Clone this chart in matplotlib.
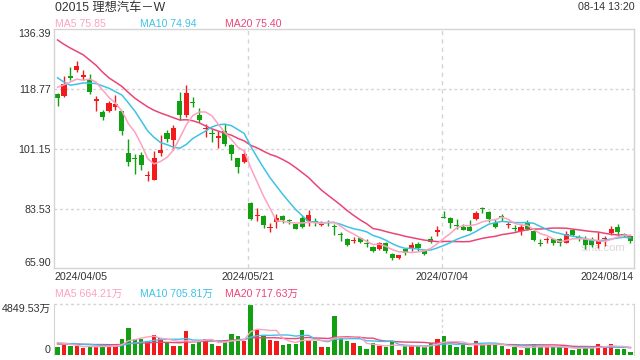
import numpy as np
import pandas as pd
import matplotlib
matplotlib.use('Agg')
import matplotlib.pyplot as plt

plt.rcParams['font.family'] = ['Liberation Sans', 'Noto Sans CJK SC', 'DejaVu Sans']

# daily candles 2024/04/05 .. 2024/08/14 (HKD)
opens = [117.3, 116.8, 122.5, 124.5, 122.2, 121.7, 115.1, 111.9, 112.2, 113.6,
         112.2, 99.9, 98.5, 99.4, 93.0, 92.0, 99.9, 105.8, 103.6, 115.1,
         111.1, 114.8, 111.1, 107.0, 105.6, 104.2, 106.5, 102.4, 98.4, 97.2,
         85.3, 81.4, 81.4, 77.8, 79.6, 81.4, 80.1, 78.9, 80.6, 79.9,
         79.9, 78.6, 79.5, 78.4, 75.9, 74.5, 73.9, 74.7, 73.2, 72.2,
         71.7, 73.5, 70.1, 68.8, 71.5, 71.7, 73.0, 71.2, 74.5, 76.5,
         80.9, 80.6, 78.6, 78.2, 78.1, 80.4, 83.5, 82.5, 79.2, 81.1,
         78.7, 77.7, 76.9, 79.4, 76.9, 73.5, 74.3, 74.5, 74.5, 73.5,
         77.1, 75.0, 74.5, 74.3, 73.0, 74.5, 76.2, 78.1, 75.8, 75.3]
highs = [117.5, 122.7, 125.3, 126.9, 124.3, 123.2, 116.6, 112.6, 115.2, 117.1,
         112.4, 103.9, 99.7, 100.2, 94.6, 100.4, 105.3, 106.7, 108.2, 118.0,
         120.0, 116.4, 113.1, 108.5, 107.0, 106.3, 108.5, 102.6, 98.4, 100.7,
         85.5, 83.8, 81.6, 79.4, 82.0, 81.7, 80.4, 79.1, 81.4, 83.0,
         80.6, 79.9, 80.2, 78.9, 76.5, 74.7, 75.0, 75.0, 74.5, 72.5,
         73.7, 73.7, 70.3, 69.9, 71.9, 73.7, 73.7, 71.7, 75.5, 78.4,
         82.8, 80.9, 80.4, 78.9, 80.1, 82.8, 84.0, 82.8, 80.4, 81.9,
         79.6, 78.6, 78.9, 80.2, 77.1, 74.5, 75.0, 74.7, 74.7, 76.9,
         77.4, 75.7, 75.3, 75.0, 76.5, 75.5, 78.4, 79.1, 76.3, 75.7]
lows = [113.9, 116.3, 121.4, 123.9, 121.4, 117.3, 112.2, 109.5, 111.9, 112.6,
        105.1, 96.0, 93.8, 95.0, 91.7, 92.0, 98.9, 103.1, 100.9, 109.5,
        110.6, 113.4, 109.0, 104.6, 103.1, 101.4, 102.1, 97.9, 94.1, 97.0,
        80.1, 79.9, 77.9, 76.6, 77.9, 79.2, 78.9, 77.4, 77.9, 78.4,
        78.4, 78.4, 78.4, 75.7, 74.0, 72.5, 73.5, 73.3, 72.3, 70.7,
        71.3, 70.5, 68.4, 68.6, 69.8, 71.0, 71.0, 69.9, 73.3, 75.3,
        80.6, 77.9, 77.6, 77.1, 76.9, 80.2, 82.3, 79.6, 77.9, 79.9,
        77.9, 76.9, 75.7, 77.2, 74.0, 72.5, 73.3, 72.7, 72.5, 73.3,
        75.3, 74.0, 71.5, 72.2, 72.0, 72.5, 75.8, 75.8, 75.0, 73.5]
closes = [116.1, 120.4, 122.0, 125.6, 122.8, 117.8, 115.8, 110.4, 114.6, 114.4,
          106.3, 97.2, 98.2, 96.4, 93.2, 98.4, 100.9, 104.1, 107.2, 111.1,
          117.6, 114.6, 109.5, 107.2, 105.4, 104.8, 102.6, 99.7, 95.8, 99.5,
          80.4, 81.6, 78.6, 78.0, 80.6, 80.1, 79.9, 77.6, 78.1, 81.6,
          79.6, 78.8, 79.3, 78.2, 75.7, 72.7, 74.1, 73.7, 73.0, 71.0,
          73.3, 71.0, 68.8, 69.8, 70.5, 72.7, 72.0, 70.2, 73.7, 77.1,
          80.6, 79.2, 78.4, 77.2, 76.9, 82.3, 83.3, 80.4, 78.2, 80.9,
          78.9, 77.4, 78.1, 77.6, 74.3, 73.2, 74.5, 73.3, 73.5, 76.0,
          75.7, 74.7, 72.8, 72.8, 74.0, 74.8, 77.6, 76.5, 75.6, 74.0]
# volume, 万股
volumes = [740, 930, 835, 835, 640, 900, 740, 995, 770, 835,
           1570, 2620, 1535, 1535, 1375, 1950, 1630, 1155, 900, 835,
           2330, 1090, 1375, 1570, 1090, 835, 1250, 2045, 1790, 1310,
           4800, 2430, 1790, 1410, 1375, 995, 1090, 1090, 2430, 1375,
           1375, 770, 770, 3770, 1630, 1310, 1155, 900, 610, 1155,
           900, 740, 1310, 515, 835, 900, 835, 740, 1155, 1570,
           1855, 995, 770, 995, 770, 1375, 995, 995, 995, 900,
           610, 770, 515, 770, 1060, 770, 740, 740, 740, 740,
           450, 580, 835, 675, 1090, 740, 1060, 610, 610, 320]
# 19 sessions before the window, only used for the moving averages
prior_closes = [146.0, 144.4, 145.5, 142.9, 148.6, 147.0, 150.3, 148.7, 139.2, 131.5,
                133.0, 131.4, 122.5, 119.0, 118.5, 116.9, 117.5, 121.6, 124.4]
prior_volumes = [950, 1020, 900, 1100, 980, 1050, 930, 1010, 960, 980,
                 1000, 1120, 1080, 990, 1070, 1250, 1400, 1200, 1350]

# values printed in the legends
ma_last = [75.85, 74.94, 75.40]
vma_last = [664.21, 705.81, 717.63]

date_labels = ['2024/04/05', '2024/05/21', '2024/07/04', '2024/08/14']
date_pos = [0, 30, 60, 89]
price_ticks = [136.39, 118.77, 101.15, 83.53, 65.90]
vol_top = 4849.53

up_col = '#f21a1a'
down_col = '#12a012'
ma_cols = {5: '#fda2bf', 10: '#3ec3e5', 20: '#ea4577'}
grid_col = '#d4d4d4'
txt_col = '#333333'

n = len(closes)
x = np.arange(n)
o = np.array(opens)
c = np.array(closes)
up = c > o
cols = np.where(up, up_col, down_col)

all_c = pd.Series(prior_closes + closes)
all_v = pd.Series(prior_volumes + volumes)
ma = {k: all_c.rolling(k).mean().values[-n:] for k in (5, 10, 20)}
vma = {k: all_v.rolling(k).mean().values[-n:] for k in (5, 10, 20)}

fig = plt.figure(figsize=(6.4, 3.6), dpi=100)
W, H = 640.0, 360.0
L, R = 54.3, 633.7
ax = fig.add_axes([L / W, 1 - 268.3 / H, (R - L) / W, 239 / H])
axv = fig.add_axes([L / W, 1 - 355 / H, (R - L) / W, 50.7 / H])

# candles
ax.vlines(x, lows, highs, colors=cols, linewidth=1, zorder=2)
ax.bar(x, np.maximum(np.abs(c - o), 0.3), bottom=np.minimum(o, c), width=0.8,
       color=cols, linewidth=0, zorder=2)
for k in (20, 10, 5):
    ax.plot(x, ma[k], color=ma_cols[k], linewidth=1.1, zorder=3)

ax.set_xlim(-0.5, n - 0.5)
ax.set_ylim(price_ticks[-1], price_ticks[0])
for p in price_ticks[1:-1]:
    ax.axhline(p, color=grid_col, linewidth=1, linestyle=(0, (2, 2)), zorder=1)
vlines_x = [date_pos[1] - 0.35, date_pos[2] - 0.35]
for xv in vlines_x:
    ax.axvline(xv, color=grid_col, linewidth=1, linestyle=(0, (3, 3)), zorder=1)
ax.set_xticks([])
ax.set_yticks(price_ticks)
ax.set_yticklabels(['%.2f' % p for p in price_ticks])
ax.tick_params(axis='y', length=0, pad=2.4, labelsize=7.7, labelcolor=txt_col)
labs = ax.get_yticklabels()
labs[0].set_va('top')
labs[-1].set_va('bottom')
for s in ax.spines.values():
    s.set_color(grid_col)
    s.set_linewidth(1)

# date labels under the price panel
tr = ax.get_xaxis_transform()
dy = -9.0 / 239
ax.text(-0.5, dy, date_labels[0], transform=tr, ha='left', va='center', fontsize=7.7, color=txt_col)
ax.text(vlines_x[0], dy, date_labels[1], transform=tr, ha='center', va='center', fontsize=7.7, color=txt_col)
ax.text(vlines_x[1], dy, date_labels[2], transform=tr, ha='center', va='center', fontsize=7.7, color=txt_col)
ax.text(n - 0.5, dy, date_labels[3], transform=tr, ha='right', va='center', fontsize=7.7, color=txt_col)
ax.text(0.947, 0.083, 'sina.com', transform=ax.transAxes, ha='center', va='center',
        fontsize=8, color='#d8d8d8', zorder=1)

# volume panel
axv.bar(x, volumes, width=0.68, color=cols, linewidth=0, zorder=2)
for k in (20, 10, 5):
    axv.plot(x, vma[k], color=ma_cols[k], linewidth=1, zorder=3)
axv.set_xlim(-0.5, n - 0.5)
axv.set_ylim(0, vol_top)
axv.axhline(vol_top, color=grid_col, linewidth=1, linestyle=(0, (2, 2)), clip_on=False)
for xv in vlines_x:
    axv.axvline(xv, color=grid_col, linewidth=1, linestyle=(0, (2, 2)), zorder=1)
axv.set_xticks([])
axv.set_yticks([vol_top, 0])
axv.set_yticklabels(['%.2f万' % vol_top, '0'])
axv.tick_params(axis='y', length=0, pad=2.4, labelsize=7.7, labelcolor=txt_col)
vl = axv.get_yticklabels()
vl[0].set_va('top')
vl[1].set_va('bottom')
axv.spines['top'].set_visible(False)
axv.spines['bottom'].set_visible(False)
for s in ('left', 'right'):
    axv.spines[s].set_color(grid_col)

# header texts
fig.text(55 / W, 1 - 7.7 / H, '02015 理想汽车－W', ha='left', va='center', fontsize=8.8, color=txt_col)
fig.text(635 / W, 1 - 7.5 / H, '08-14 13:20', ha='right', va='center', fontsize=7.7, color=txt_col)
for k, xx, m, vm in zip((5, 10, 20), (55, 140, 225), ma_last, vma_last):
    fig.text(xx / W, 1 - 24 / H, 'MA%d %.2f' % (k, m), ha='left', va='center',
             fontsize=7.6, color=ma_cols[k])
    fig.text(xx / W, 1 - 294.3 / H, 'MA%d %.2f万' % (k, vm), ha='left', va='center',
             fontsize=7.6, color=ma_cols[k])

fig.savefig('out.png', dpi=100)
